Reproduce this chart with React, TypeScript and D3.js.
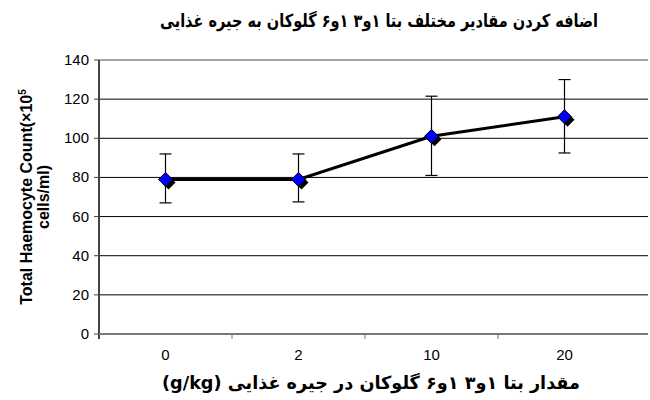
import React from "react";
import * as d3 from "d3";

// Feed dose (g/kg) and total haemocyte count (×10^5 cells/ml)
const categories = ["0", "2", "10", "20"];
const means = [79, 79, 101, 111];
const upper = [92, 92, 121.5, 130];
const lower = [67, 67.5, 81, 92.5];
const yTicks = [0, 20, 40, 60, 80, 100, 120, 140];

const titleText = "اضافه  کردن مقادیر مختلف بتا ۱و۳ ۱و۶ گلوکان به جیره غذایی";
const xTitleText = "مقدار بتا ۱و۳ ۱و۶ گلوکان در جیره غذایی (g/kg)";

const W = 650;
const H = 400;
const left = 99;
const top = 60;
const bottom = 334;
const gridRight = 648;
const bandRight = 631;

export default function App() {
  const y = d3.scaleLinear().domain([0, 140]).range([bottom, top]);
  const x = d3.scaleBand<string>().domain(categories).range([left, bandRight]);
  const cx = (c: string) => (x(c) as number) + x.bandwidth() / 2;

  const line = d3
    .line<number>()
    .x((_, i) => cx(categories[i]))
    .y((d) => y(d));

  const r = 7;
  const diamond = (px: number, py: number) =>
    `M${px},${py - r}L${px + r},${py}L${px},${py + r}L${px - r},${py}Z`;

  const sans = "'Liberation Sans', Arial, sans-serif";
  const persian = "'DejaVu Sans', sans-serif";

  return (
    <svg
      width={W}
      height={H}
      style={{ position: "absolute", left: 0, top: 0, background: "#fff" }}
    >
      <text
        x={379}
        y={27}
        textAnchor="middle"
        direction="rtl"
        fontFamily={persian}
        fontWeight="bold"
        fontSize={18}
        textLength={438}
        lengthAdjust="spacingAndGlyphs"
      >
        {titleText}
      </text>

      {/* grid lines */}
      {yTicks
        .filter((t) => t > 0)
        .map((t) => (
          <line
            key={t}
            x1={left}
            x2={gridRight}
            y1={y(t)}
            y2={y(t)}
            stroke={t === 140 ? "#888" : "#000"}
            strokeWidth={t === 140 ? 1.5 : 1}
          />
        ))}

      {/* y axis */}
      <line x1={left} x2={left} y1={top} y2={bottom + 5} stroke="#444" strokeWidth={2} />
      {yTicks.map((t) => (
        <g key={t}>
          <line x1={left - 5} x2={left} y1={y(t)} y2={y(t)} stroke="#444" strokeWidth={1} />
          <text
            x={left - 10}
            y={y(t) + 5}
            textAnchor="end"
            fontFamily={sans}
            fontSize={15}
          >
            {t}
          </text>
        </g>
      ))}

      {/* x axis */}
      <line x1={left} x2={gridRight} y1={bottom} y2={bottom} stroke="#777" strokeWidth={2} />
      {categories.slice(1).map((c) => (
        <line
          key={c}
          x1={x(c) as number}
          x2={x(c) as number}
          y1={bottom}
          y2={bottom + 5}
          stroke="#777"
          strokeWidth={1}
        />
      ))}
      {categories.map((c) => (
        <text
          key={c}
          x={cx(c)}
          y={bottom + 26}
          textAnchor="middle"
          fontFamily={sans}
          fontSize={15}
        >
          {c}
        </text>
      ))}

      {/* error bars */}
      {categories.map((c, i) => {
        const px = cx(c);
        return (
          <g key={c} stroke="#000" strokeWidth={1.2}>
            <line x1={px} x2={px} y1={y(upper[i])} y2={y(lower[i])} />
            <line x1={px - 6} x2={px + 6} y1={y(upper[i])} y2={y(upper[i])} />
            <line x1={px - 6} x2={px + 6} y1={y(lower[i])} y2={y(lower[i])} />
          </g>
        );
      })}

      <path d={line(means) ?? ""} fill="none" stroke="#000" strokeWidth={3} />

      {/* markers with drop shadow */}
      {categories.map((c, i) => {
        const px = cx(c);
        const py = y(means[i]);
        return (
          <g key={c}>
            <path d={diamond(px + 3, py + 3)} fill="#000" />
            <path d={diamond(px, py)} fill="#0000ff" stroke="#000" strokeWidth={1} />
          </g>
        );
      })}

      {/* y title */}
      <g transform={`translate(32, 197) rotate(-90)`} fontFamily={sans} fontWeight="bold" fontSize={16}>
        <text x={0} y={0} textAnchor="middle">
          Total Haemocyte Count(×10
          <tspan fontSize={10} dy={-6}>5</tspan>
        </text>
        <text x={0} y={17} textAnchor="middle">
          cells/ml)
        </text>
      </g>

      <text
        x={371}
        y={389}
        textAnchor="middle"
        direction="rtl"
        fontFamily={persian}
        fontWeight="bold"
        fontSize={18}
        textLength={418}
        lengthAdjust="spacingAndGlyphs"
      >
        {xTitleText}
      </text>
    </svg>
  );
}
